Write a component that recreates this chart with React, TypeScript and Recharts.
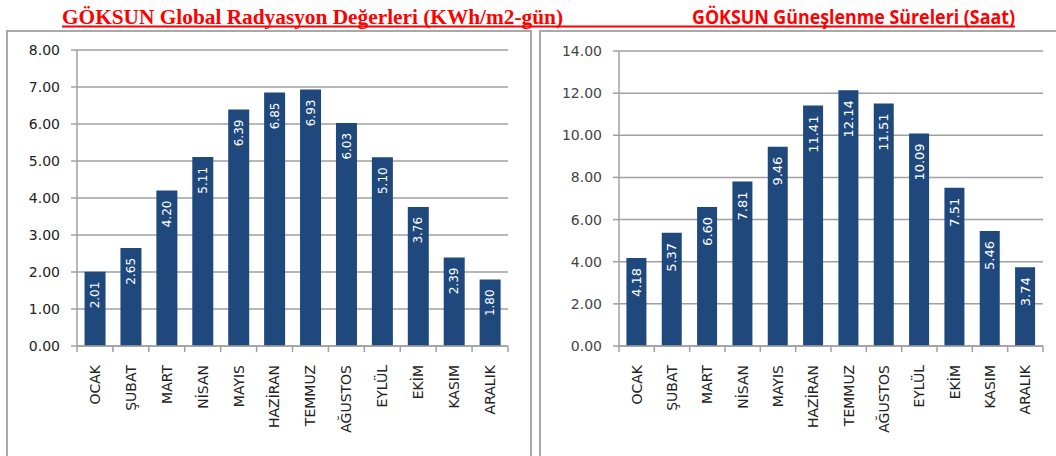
import { BarChart, Bar, XAxis, YAxis, CartesianGrid, LabelList } from "recharts";

const months = ["OCAK", "ŞUBAT", "MART", "NİSAN", "MAYIS", "HAZİRAN", "TEMMUZ", "AĞUSTOS", "EYLÜL", "EKİM", "KASIM", "ARALIK"];
const radiation = [2.01, 2.65, 4.2, 5.11, 6.39, 6.85, 6.93, 6.03, 5.1, 3.76, 2.39, 1.8];
const sunshine = [4.18, 5.37, 6.6, 7.81, 9.46, 11.41, 12.14, 11.51, 10.09, 7.51, 5.46, 3.74];
const radiationTicks = [0, 1, 2, 3, 4, 5, 6, 7, 8];
const sunshineTicks = [0, 2, 4, 6, 8, 10, 12, 14];

const radiationData = months.map((m, i) => ({ month: m, value: radiation[i] }));
const sunshineData = months.map((m, i) => ({ month: m, value: sunshine[i] }));

const FONT = "'DejaVu Sans', Verdana, sans-serif";
const BAR = "#1F497D";
const GRID = "#a0a0a0";

function MonthTick(props: any) {
  const { x, y, payload, index, band } = props;
  const half = band / 2;
  const ly = y + 19;
  return (
    <g>
      <line x1={x - half} x2={x - half} y1={y} y2={y + 6} stroke={GRID} strokeWidth={1.5} />
      {index === months.length - 1 && (
        <line x1={x + half} x2={x + half} y1={y} y2={y + 6} stroke={GRID} strokeWidth={1.5} />
      )}
      <text
        x={x}
        y={ly}
        transform={`rotate(-90 ${x} ${ly})`}
        textAnchor="end"
        dy="0.35em"
        fontSize={14}
        fill="#222"
        fontFamily={FONT}
      >
        {payload.value}
      </text>
    </g>
  );
}

function barValue(size: number) {
  return (props: any) => {
    const { x, y, width, value } = props;
    const cx = Number(x) + Number(width) / 2;
    const ty = Number(y) + 10;
    return (
      <text
        x={cx}
        y={ty}
        transform={`rotate(-90 ${cx} ${ty})`}
        textAnchor="end"
        dy="0.35em"
        fill="#fff"
        fontSize={size}
        fontFamily={FONT}
      >
        {Number(value).toFixed(2)}
      </text>
    );
  };
}

function MonthChart(props: any) {
  const { data, ticks, max, width, axisWidth, right, top, band, tickColor, labelSize } = props;
  return (
    <BarChart
      width={width}
      height={425}
      data={data}
      margin={{ top, right, left: 0, bottom: 20 }}
      barCategoryGap="21%"
    >
      <CartesianGrid vertical={false} stroke={GRID} strokeWidth={1.5} />
      <XAxis
        dataKey="month"
        interval={0}
        height={90}
        tickSize={0}
        tickMargin={0}
        tickLine={false}
        axisLine={{ stroke: GRID, strokeWidth: 1.5 }}
        tick={(p: any) => <MonthTick {...p} band={band} />}
      />
      <YAxis
        domain={[0, max]}
        ticks={ticks}
        width={axisWidth}
        tickSize={6}
        tickMargin={11}
        interval={0}
        axisLine={{ stroke: GRID, strokeWidth: 1.5 }}
        tickLine={{ stroke: GRID, strokeWidth: 1.5 }}
        tickFormatter={(v: number) => v.toFixed(2)}
        tick={{ fontSize: 14, fill: tickColor, fontFamily: FONT }}
      />
      <Bar dataKey="value" fill={BAR} isAnimationActive={false}>
        <LabelList dataKey="value" content={barValue(labelSize)} />
      </Bar>
    </BarChart>
  );
}

export default function App() {
  return (
    <div style={{ position: "absolute", left: 0, top: 0, width: 1056, height: 456, background: "#fff", overflow: "hidden" }}>
      <svg width={1056} height={31} style={{ position: "absolute", left: 0, top: 0 }}>
        <text
          x={62}
          y={23.5}
          textLength={501}
          lengthAdjust="spacingAndGlyphs"
          fontFamily="'Liberation Serif', 'Times New Roman', serif"
          fontWeight="bold"
          fontSize={20}
          fill="#ff0000"
        >
          GÖKSUN Global Radyasyon Değerleri (KWh/m2-gün)
        </text>
        <text
          x={692}
          y={24}
          textLength={323}
          lengthAdjust="spacingAndGlyphs"
          fontFamily="'Open Sans', 'Noto Sans', sans-serif"
          fontWeight="bold"
          fontSize={20}
          fill="#ff0000"
        >
          GÖKSUN Güneşlenme Süreleri (Saat)
        </text>
        <rect x={62} y={25.5} width={953} height={2} fill="#ff0000" />
      </svg>

      <div style={{ position: "absolute", left: 6, top: 30, width: 522, height: 440, border: "2px solid #a9a9a9" }} />
      <div style={{ position: "absolute", left: 539, top: 30, width: 540, height: 440, border: "2px solid #a9a9a9" }} />

      <div style={{ position: "absolute", left: 7, top: 31 }}>
        <MonthChart
          data={radiationData}
          ticks={radiationTicks}
          max={8}
          width={522}
          axisWidth={70}
          right={21}
          top={19}
          band={431 / 12}
          tickColor="#222"
          labelSize={12}
        />
      </div>
      <div style={{ position: "absolute", left: 540, top: 31 }}>
        <MonthChart
          data={sunshineData}
          ticks={sunshineTicks}
          max={14}
          width={516}
          axisWidth={79}
          right={13}
          top={20}
          band={424 / 12}
          tickColor="#444"
          labelSize={13}
        />
      </div>
    </div>
  );
}
